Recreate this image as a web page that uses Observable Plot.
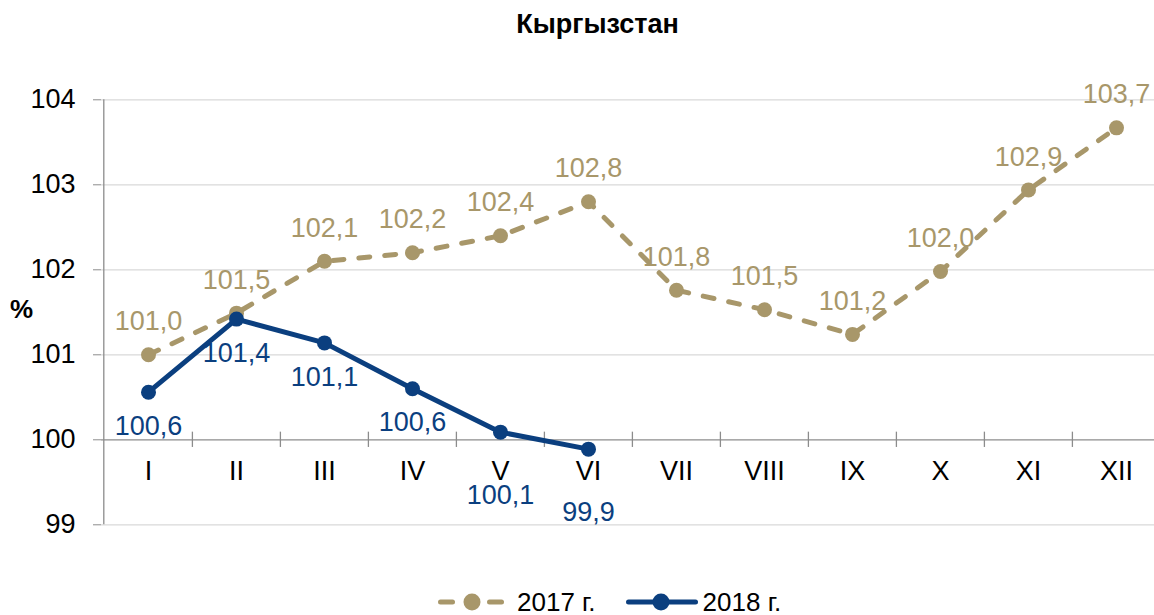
<!DOCTYPE html>
<html>
<head>
<meta charset="utf-8">
<script src="https://cdn.jsdelivr.net/npm/d3@7"></script>
<script src="https://cdn.jsdelivr.net/npm/@observablehq/plot@0.6"></script>
<style>
  html, body { margin: 0; padding: 0; background: #fff; }
  body { width: 1154px; height: 615px; position: relative; overflow: hidden; font-family: "Liberation Sans", Arial, sans-serif; }
  #title { position: absolute; left: 0; top: 11px; width: 1195px; text-align: center; font-weight: bold; font-size: 27px; line-height: 27px; color: #000; }
  #ylab { position: absolute; left: 10px; top: 296px; font-weight: bold; font-size: 26px; line-height: 26px; color: #000; }
  #chart { position: absolute; left: 0; top: 0; }
  #legend { position: absolute; left: 438px; top: 587px; height: 30px; display: flex; align-items: center; font-size: 26px; color: #000; }
  #legend span { line-height: 30px; }
</style>
</head>
<body>
<div id="chart"></div>
<div id="title">Кыргызстан</div>
<div id="ylab">%</div>
<div id="legend"></div>
<script>
const months = ["I", "II", "III", "IV", "V", "VI", "VII", "VIII", "IX", "X", "XI", "XII"];
const values2017 = [101.0, 101.49, 102.1, 102.2, 102.4, 102.8, 101.76, 101.53, 101.24, 101.98, 102.94, 103.67];
const values2018 = [100.56, 101.42, 101.14, 100.6, 100.09, 99.89];
const yTicks = [99, 100, 101, 102, 103, 104];
const seriesNames = ["2017 г.", "2018 г."];
const axisCross = 100;

const tan = "#A8976A";
const navy = "#0B3F7F";
const axisGray = "#8C8C8C";
const gridGray = "#D9D9D9";

const d2017 = months.map((m, i) => ({m, v: values2017[i]}));
const d2018 = values2018.map((v, i) => ({m: months[i], v}));
const fmt = v => v.toFixed(1).replace(".", ",");

const chart = Plot.plot({
  width: 1154,
  height: 615,
  marginLeft: 101,
  marginRight: 0,
  marginTop: 99.3,
  marginBottom: 90.7,
  style: {fontFamily: "Liberation Sans, Arial, sans-serif", background: "white", color: "black"},
  x: {type: "point", domain: months, range: [146, 1117], padding: 0, axis: null},
  y: {domain: [99, 104]},
  marks: [
    Plot.ruleY(yTicks.filter(t => t !== axisCross), {y: d => d, stroke: gridGray, strokeWidth: 1.3}),
    Plot.ruleY([axisCross], {y: d => d, stroke: axisGray, strokeWidth: 1.3}),
    Plot.ruleX([months[0]], {x: d => d, y1: 99, y2: 104, dx: -44.7, stroke: axisGray, strokeWidth: 1.3}),
    Plot.ruleX(months.slice(1), {x: d => d, y1: axisCross - 0.09, y2: axisCross + 0.09, dx: -44.1, stroke: axisGray, strokeWidth: 1.3}),
    Plot.axisY({ticks: yTicks, tickSize: 8, tickPadding: 18, fontSize: 27, stroke: axisGray, fill: "black", label: null, tickFormat: d => String(d)}),
    Plot.text(months, {x: d => d, y: () => axisCross, dy: 32, text: d => d, fontSize: 27, fill: "black"}),
    Plot.line(d2017, {x: "m", y: "v", stroke: tan, strokeWidth: 5, strokeDasharray: "11,15", strokeLinecap: "round"}),
    Plot.dot(d2017, {x: "m", y: "v", r: 7.5, fill: tan}),
    Plot.line(d2018, {x: "m", y: "v", stroke: navy, strokeWidth: 5, strokeLinejoin: "round"}),
    Plot.dot(d2018, {x: "m", y: "v", r: 7.5, fill: navy}),
    Plot.text(d2017, {x: "m", y: "v", text: d => fmt(d.v), dy: -33, fontSize: 27, fill: tan}),
    Plot.text(d2018.filter(d => d.v >= axisCross + 0.3), {x: "m", y: "v", text: d => fmt(d.v), dy: 34, fontSize: 27, fill: navy}),
    Plot.text(d2018.filter(d => d.v < axisCross + 0.3), {x: "m", y: "v", text: d => fmt(d.v), dy: 63, fontSize: 27, fill: navy})
  ]
});
document.getElementById("chart").appendChild(chart);

const legend = document.getElementById("legend");
legend.innerHTML =
  `<svg width="66" height="30"><line x1="2.5" x2="14.5" y1="15" y2="15" stroke="${tan}" stroke-width="5" stroke-linecap="round"/>` +
  `<line x1="51.5" x2="63.5" y1="15" y2="15" stroke="${tan}" stroke-width="5" stroke-linecap="round"/>` +
  `<circle cx="34" cy="15" r="8.5" fill="${tan}"/></svg>` +
  `<span style="margin-left:13px">${seriesNames[0]}</span>` +
  `<svg width="72" height="30" style="margin-left:30px"><line x1="2.5" x2="69.5" y1="15" y2="15" stroke="${navy}" stroke-width="5" stroke-linecap="round"/>` +
  `<circle cx="35" cy="15" r="8.5" fill="${navy}"/></svg>` +
  `<span style="margin-left:5px">${seriesNames[1]}</span>`;
</script>
</body>
</html>
